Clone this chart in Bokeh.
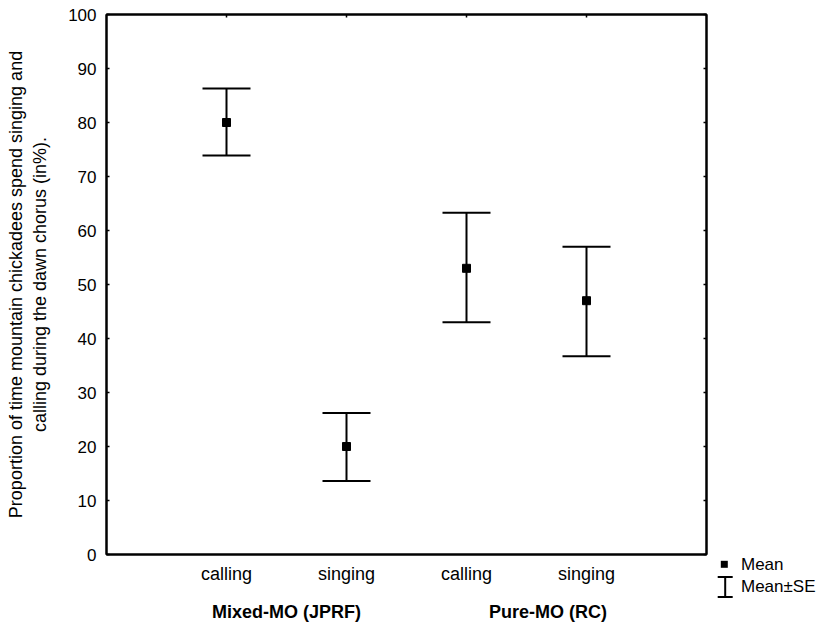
from bokeh.plotting import figure
from bokeh.layouts import row
from bokeh.models import (ColumnDataSource, Whisker, TeeHead, LinearAxis, FixedTicker, Range1d, Div)
from bokeh.embed import file_html
from bokeh.resources import INLINE

# ---- data ----
categories = ["calling", "singing", "calling", "singing"]
groups = ["Mixed-MO (JPRF)", "Pure-MO (RC)"]
means = [80.0, 20.0, 53.0, 47.0]
upper = [86.3, 26.2, 63.3, 57.0]
lower = [73.9, 13.6, 43.0, 36.7]
y_ticks = list(range(0, 101, 10))
legend_labels = ["Mean", "Mean\u00b1SE"]

x_pos = [i + 1 for i in range(len(categories))]
group_pos = [1.5, 3.68]  # label placement under each group

FONT = "Liberation Sans"

src = ColumnDataSource(dict(x=x_pos, mean=means, upper=upper, lower=lower))

p = figure(frame_width=600, frame_height=540, min_border_left=106, min_border_right=4,
           min_border_top=14, min_border_bottom=71,
           x_range=Range1d(0, 5), y_range=Range1d(0, 100),
           output_backend="svg", toolbar_location=None,
           background_fill_color="white", border_fill_color="white")
p.xgrid.visible = False
p.ygrid.visible = False
p.outline_line_color = "black"
p.outline_line_width = 2

wh = Whisker(source=src, base="x", upper="upper", lower="lower",
             line_color="black", line_width=2,
             upper_head=TeeHead(size=48, line_width=2, line_color="black"),
             lower_head=TeeHead(size=48, line_width=2, line_color="black"))
p.add_layout(wh)
p.scatter("x", "mean", source=src, marker="square", size=8,
          fill_color="black", line_color="black")


def tick_style(ax, tin):
    ax.major_tick_in = tin
    ax.major_tick_out = 0
    ax.minor_tick_line_color = None
    ax.axis_line_width = 2
    ax.axis_line_color = "black"
    ax.major_tick_line_width = 1.5
    ax.major_tick_line_color = "black"


# left axis
ya = p.left[0]
ya.ticker = FixedTicker(ticks=y_ticks)
tick_style(ya, 3)
ya.major_label_text_font = FONT
ya.major_label_text_font_size = "17px"
ya.major_label_text_color = "black"
ya.major_label_standoff = 10
ya.axis_label = ("Proportion of time mountain chickadees spend singing and\n"
                 "calling during the dawn chorus (in%).")
ya.axis_label_text_font = FONT
ya.axis_label_text_font_size = "18px"
ya.axis_label_text_font_style = "normal"
ya.axis_label_text_color = "black"
ya.axis_label_standoff = 15

# bottom axis: categories
xa = p.below[0]
xa.ticker = FixedTicker(ticks=x_pos)
xa.major_label_overrides = {x: c for x, c in zip(x_pos, categories)}
tick_style(xa, 0)
xa.major_label_text_font = FONT
xa.major_label_text_font_size = "18px"
xa.major_label_text_color = "black"
xa.major_label_standoff = 9

# right axis (ticks only)
ra = LinearAxis(ticker=FixedTicker(ticks=y_ticks), major_label_overrides={t: "" for t in y_ticks},
                major_label_standoff=0)
tick_style(ra, 3)
p.add_layout(ra, "right")

# top axis (ticks only)
ta = LinearAxis(ticker=FixedTicker(ticks=x_pos), major_label_overrides={t: "" for t in x_pos},
                major_label_standoff=0)
tick_style(ta, 3)
p.add_layout(ta, "above")

# bottom axis: groups
ga = LinearAxis(ticker=FixedTicker(ticks=group_pos))
ga.major_label_overrides = {x: g for x, g in zip(group_pos, groups)}
ga.axis_line_color = None
ga.major_tick_line_color = None
ga.minor_tick_line_color = None
ga.major_tick_in = 0
ga.major_tick_out = 0
ga.major_label_text_font = FONT
ga.major_label_text_font_size = "18px"
ga.major_label_text_font_style = "bold"
ga.major_label_text_color = "black"
ga.major_label_standoff = 15
p.add_layout(ga, "below")

# ---- legend (bottom right, outside the plot frame) ----
LW = 820 - 710
legend_html = f"""
<div style="position:relative;width:{LW}px;height:625px;font-family:'{FONT}';font-size:17px;color:black;">
  <svg style="position:absolute;left:0;top:0;" width="{LW}" height="625">
    <rect x="10.8" y="560.8" width="7" height="7" fill="black"/>
    <line x1="7.7" y1="577" x2="22.7" y2="577" stroke="black" stroke-width="2"/>
    <line x1="7.7" y1="597" x2="22.7" y2="597" stroke="black" stroke-width="2"/>
    <line x1="15.2" y1="577" x2="15.2" y2="597" stroke="black" stroke-width="2"/>
  </svg>
  <span style="position:absolute;left:31px;top:554.5px;line-height:20px;white-space:nowrap;">{legend_labels[0]}</span>
  <span style="position:absolute;left:31px;top:577.2px;line-height:20px;white-space:nowrap;">{legend_labels[1]}</span>
</div>
"""
lg = Div(text=legend_html, width=LW, height=625, margin=(0, 0, 0, 0))

layout = row(p, lg, spacing=0)
open("out.html", "w").write(file_html(layout, INLINE))
